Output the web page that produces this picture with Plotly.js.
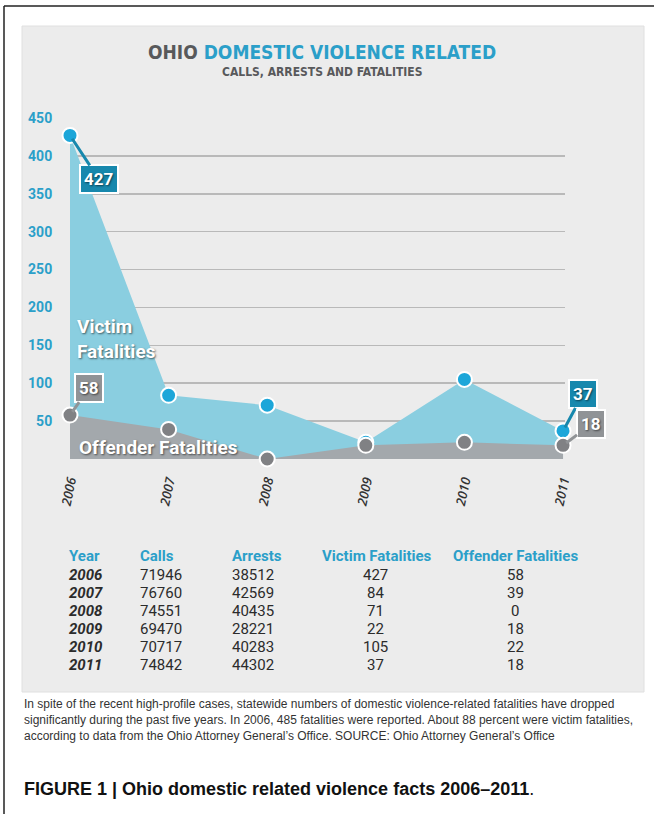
<!DOCTYPE html>
<html>
<head>
<meta charset="utf-8">
<script src="https://cdn.plot.ly/plotly-3.0.1.min.js"></script>
<style>html,body{margin:0;padding:0;background:#fff;}#chart{width:654px;height:814px;}</style>
</head>
<body>
<div id="chart"></div>
<script>
// ---- data ----
const years = [2006, 2007, 2008, 2009, 2010, 2011];
const calls = [71946, 76760, 74551, 69470, 70717, 74842];
const arrests = [38512, 42569, 40435, 28221, 40283, 44302];
const victimFatalities = [427, 84, 71, 22, 105, 37];
const offenderFatalities = [58, 39, 0, 18, 22, 18];
const yTicks = [50, 100, 150, 200, 250, 300, 350, 400, 450];
const tableHeaders = ["Year", "Calls", "Arrests", "Victim Fatalities", "Offender Fatalities"];

// ---- layout helpers ----
const W = 654, H = 814;
const L = 70, R = 89, T = 118, B = 355;
const PW = W - L - R, PH = H - T - B;
const px2x = px => (px - L) / PW;
const py2y = py => (H - B - py) / PH;

const BLUE = '#2b9fc9';
const VFILL = '#8acee0';
const OFILL = '#a3a8ac';
const VMARK = '#1ca6d9';
const OMARK = '#808184';
const TEAL = '#1788ad';
const GREYBOX = '#909396';
const narrow = '"DejaVu Sans Condensed", "Liberation Sans Narrow", Roboto, sans-serif';
const shadow = '1px 1px 2px rgba(0,0,0,0.55)';

const traces = [
  {x: years, y: victimFatalities, type: 'scatter', mode: 'lines', fill: 'tozeroy',
   fillcolor: VFILL, line: {width: 0, color: VFILL}, hoverinfo: 'skip', cliponaxis: false},
  {x: years, y: offenderFatalities, type: 'scatter', mode: 'lines', fill: 'tozeroy',
   fillcolor: OFILL, line: {width: 0, color: OFILL}, hoverinfo: 'skip', cliponaxis: false},
  {x: years, y: victimFatalities, type: 'scatter', mode: 'markers', cliponaxis: false,
   marker: {size: 15, color: VMARK, line: {color: '#fff', width: 2}}},
  {x: years, y: offenderFatalities, type: 'scatter', mode: 'markers', cliponaxis: false,
   marker: {size: 15, color: OMARK, line: {color: '#fff', width: 2}}}
];

const ann = [];
function txt(px, py, text, font, xanchor) {
  ann.push({xref: 'paper', yref: 'paper', x: px2x(px), y: py2y(py), xanchor: xanchor || 'left',
    yanchor: 'middle', showarrow: false, align: 'left', text: text, font: font});
}
// title
txt(322, 52, '<span style="color:#58595b">OHIO </span><span style="color:' + BLUE + '">DOMESTIC VIOLENCE RELATED</span>',
  {family: narrow, size: 19, weight: 'bold'}, 'center');
txt(322, 72, 'CALLS, ARRESTS AND FATALITIES', {family: narrow, size: 12, weight: 'bold', color: '#58595b'}, 'center');

// value callouts
function callout(i, series, bg, ax, ay) {
  ann.push({x: years[i], y: series[i], xref: 'x', yref: 'y', text: '<b>' + series[i] + '</b>',
    showarrow: true, arrowhead: 0, arrowwidth: 3, arrowcolor: bg, ax: ax, ay: ay, standoff: 4,
    bgcolor: bg, bordercolor: '#ffffff', borderwidth: 2, borderpad: 3,
    font: {family: 'Roboto, sans-serif', size: 17, color: '#fff', shadow: shadow}});
}
callout(0, victimFatalities, TEAL, 29, 44);
callout(0, offenderFatalities, GREYBOX, 19, -27);
callout(5, victimFatalities, TEAL, 20, -37);
callout(5, offenderFatalities, GREYBOX, 28, -21);

// area labels
const lblFont = {family: 'Roboto, sans-serif', size: 19, color: '#fff', shadow: shadow};
txt(75, 339, '<b>Victim<br>Fatalities</b>', lblFont);
txt(77, 447, '<b>Offender Fatalities</b>', lblFont);

// table
const colX = [67, 138, 230, 375, 515];
const colAnchor = ['left', 'left', 'left', 'center', 'center'];
const headX = [67, 138, 230, 320, 451];
tableHeaders.forEach((h, j) => {
  txt(headX[j], 556, '<b>' + h + '</b>', {family: 'Roboto, sans-serif', size: 15, color: BLUE});
});
years.forEach((yr, i) => {
  const py = 575 + i * 18;
  const vals = [yr, calls[i], arrests[i], victimFatalities[i], offenderFatalities[i]];
  vals.forEach((v, j) => {
    txt(colX[j], py, j === 0 ? '<b><i>' + v + '</i></b>' : String(v),
      {family: 'Roboto, sans-serif', size: 15, color: '#2b2b2b'}, colAnchor[j]);
  });
});

// caption
const captionLines = [
  'In spite of the recent high-profile cases, statewide numbers of domestic violence-related fatalities have dropped',
  'significantly during the past five years. In 2006, 485 fatalities were reported. About 88 percent were victim fatalities,',
  'according to data from the Ohio Attorney General\u2019s Office. SOURCE: Ohio Attorney General\u2019s Office'
];
captionLines.forEach((t, i) => {
  txt(22, 704 + i * 16, t, {family: '"Liberation Sans", Arial, sans-serif', size: 12, color: '#333'});
});
txt(22, 789, '<b>FIGURE 1 | Ohio domestic related violence facts 2006\u20132011</b>.',
  {family: '"Liberation Sans", Arial, sans-serif', size: 18, color: '#111'});

const shapes = [
  {type: 'rect', xref: 'paper', yref: 'paper', x0: px2x(22), x1: px2x(644), y0: py2y(692), y1: py2y(26),
   fillcolor: '#ececec', line: {color: '#e0e0e0', width: 1}, layer: 'below'},
  {type: 'line', xref: 'paper', yref: 'paper', x0: px2x(4), x1: px2x(654), y0: py2y(6), y1: py2y(6),
   line: {color: '#222', width: 1.5}},
  {type: 'line', xref: 'paper', yref: 'paper', x0: px2x(4), x1: px2x(4), y0: py2y(6), y1: py2y(814),
   line: {color: '#222', width: 1.5}}
];

const layout = {
  width: W, height: H,
  margin: {l: L, r: R, t: T, b: B, pad: 0},
  paper_bgcolor: '#ffffff', plot_bgcolor: 'rgba(0,0,0,0)',
  showlegend: false,
  xaxis: {range: [2006, 2011.02], tickvals: years, ticktext: years.map(String), tickangle: -78,
    showgrid: false, zeroline: false, showline: false, ticks: 'outside', ticklen: 8, tickcolor: 'rgba(0,0,0,0)',
    tickfont: {family: '"Open Sans", sans-serif', size: 13, color: '#333', style: 'italic', weight: 600}, fixedrange: true},
  yaxis: {range: [0, 450], tickvals: yTicks, showgrid: true, gridcolor: '#b9b9b9', gridwidth: 1.5,
    zeroline: false, showline: false, ticks: 'outside', ticklen: 14, tickcolor: 'rgba(0,0,0,0)',
    tickfont: {family: 'Roboto, sans-serif', size: 14, color: BLUE, weight: 'bold'}, fixedrange: true},
  annotations: ann,
  shapes: shapes
};

Plotly.newPlot('chart', traces, layout, {displayModeBar: false, staticPlot: true});
</script>
</body>
</html>
